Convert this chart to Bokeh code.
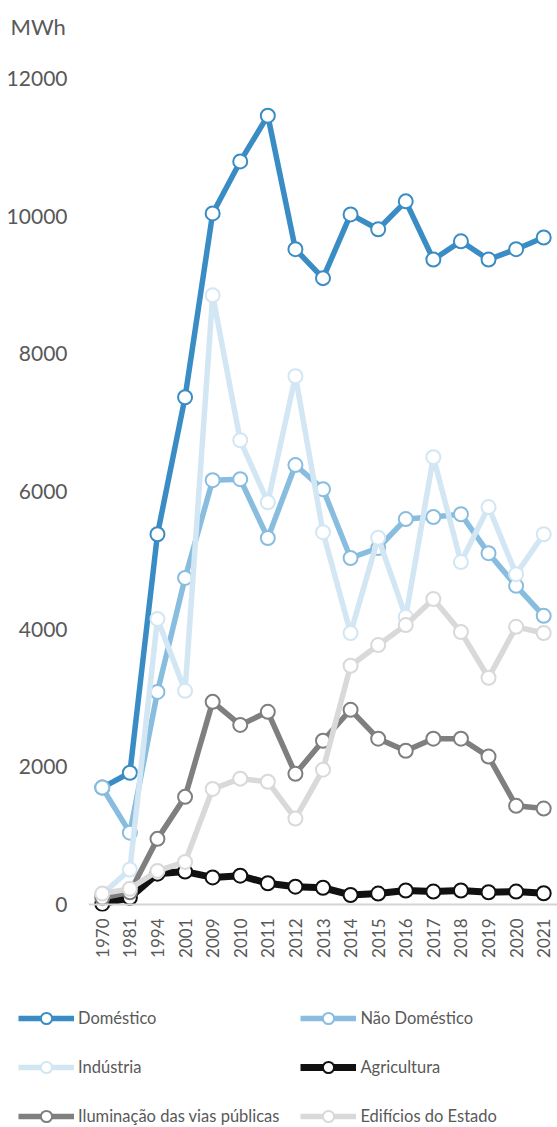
import math
from bokeh.plotting import figure
from bokeh.layouts import column, row
from bokeh.models import Range1d, FactorRange, FixedTicker, Span, Legend, LegendItem, ColumnDataSource
from bokeh.embed import file_html
from bokeh.resources import INLINE

years = ["1970", "1981", "1994", "2001", "2009", "2010", "2011", "2012", "2013",
         "2014", "2015", "2016", "2017", "2018", "2019", "2020", "2021"]
domestico = [1700, 1915, 5380, 7370, 10040, 10795, 11460, 9520, 9100, 10025, 9810, 10215, 9370, 9635, 9370, 9520, 9690]
nao_domestico = [1700, 1045, 3090, 4745, 6165, 6180, 5325, 6385, 6035, 5035, 5180, 5600, 5630, 5670, 5105, 4630, 4195]
industria = [150, 510, 4150, 3105, 8850, 6745, 5845, 7675, 5410, 3945, 5330, 4180, 6500, 4975, 5775, 4800, 5380]
agricultura = [10, 100, 450, 480, 395, 420, 310, 260, 245, 140, 160, 205, 190, 205, 180, 190, 165]
iluminacao = [100, 180, 955, 1565, 2945, 2610, 2800, 1900, 2380, 2830, 2410, 2235, 2410, 2410, 2150, 1435, 1395]
edificios = [160, 230, 490, 620, 1680, 1830, 1785, 1250, 1960, 3470, 3770, 4060, 4440, 3960, 3295, 4035, 3945]

series_names = ["Doméstico", "Não Doméstico", "Indústria", "Agricultura",
                "Iluminação das vias públicas", "Edifícios do Estado"]
series_values = [domestico, nao_domestico, industria, agricultura, iluminacao, edificios]
colors = ["#3a8cc5", "#88bde0", "#d2e6f3", "#111111", "#7f7f7f", "#d9d9d9"]
widths = [5.5, 5.5, 5.5, 7, 5.5, 5.5]
y_ticks = [0, 2000, 4000, 6000, 8000, 10000, 12000]

TXT = "#595959"
FONT = "Lato"

p = figure(width=557, height=985, x_range=FactorRange(*years),
           y_range=Range1d(-100, 12421), output_backend="svg",
           toolbar_location=None, title="MWh",
           min_border_left=88, min_border_right=0, min_border_top=48,
           min_border_bottom=74)
p.outline_line_color = None
p.grid.grid_line_color = None
p.background_fill_color = "white"

p.title.align = "left"
p.title.offset = -78
p.title.standoff = 20
p.title.text_font = FONT
p.title.text_font_size = "22px"
p.title.text_font_style = "normal"
p.title.text_color = TXT

p.yaxis.ticker = FixedTicker(ticks=y_ticks)
p.yaxis.axis_line_color = None
p.yaxis.major_tick_line_color = None
p.yaxis.major_tick_out = 0
p.yaxis.minor_tick_line_color = None
p.yaxis.minor_tick_out = 0
p.yaxis.major_label_standoff = 21
p.yaxis.major_label_text_font = FONT
p.yaxis.major_label_text_font_size = "21px"
p.yaxis.major_label_text_color = TXT

p.xaxis.axis_line_color = None
p.xaxis.major_tick_line_color = None
p.xaxis.major_tick_out = 0
p.xaxis.major_label_orientation = math.pi / 2
p.xaxis.major_label_standoff = 7
p.xaxis.major_label_text_font = FONT
p.xaxis.major_label_text_font_size = "17px"
p.xaxis.major_label_text_color = TXT

p.add_layout(Span(location=0, dimension="width", line_color="#d4d4d4", line_width=2))

# legend figure: the same series renderers, kept outside its visible range so only the legend shows
leg = figure(width=557, height=142, x_range=p.x_range, y_range=Range1d(-3e6, -2e6),
             output_backend="svg", toolbar_location=None,
             x_axis_location=None, y_axis_location=None,
             min_border_left=0, min_border_right=0, min_border_top=0, min_border_bottom=0)
leg.outline_line_color = None
leg.grid.visible = False

items = []
for name, vals, col, w in zip(series_names, series_values, colors, widths):
    src = ColumnDataSource(dict(x=years, y=vals))
    for fig in (p, leg):
        r1 = fig.line("x", "y", source=src, line_color=col, line_width=w, line_join="round")
        r2 = fig.scatter("x", "y", source=src, size=14, marker="circle", fill_color="white",
                         line_color=col, line_width=2)
    items.append(LegendItem(label=name, renderers=[r1, r2]))

legend = Legend(items=items, location=(18, -3), orientation="horizontal", ncols=2,
                glyph_width=56, glyph_height=28, label_height=28, label_width=194,
                label_standoff=4, spacing=21, padding=0, margin=0,
                label_text_font=FONT, label_text_font_size="16.5px", label_text_color=TXT,
                border_line_color=None, background_fill_alpha=0)
leg.add_layout(legend, "center")

layout = column(p, row(leg))
open("out.html", "w").write(file_html(layout, INLINE))
